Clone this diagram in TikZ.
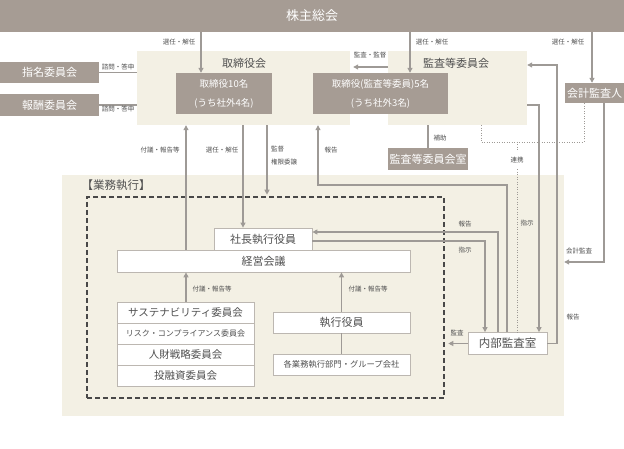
\documentclass[tikz,border=0pt]{standalone}
\usepackage{fontspec}
\setmainfont{Noto Sans CJK JP}
\usetikzlibrary{arrows.meta}
\definecolor{taupe}{RGB}{166,156,148}
\definecolor{paper}{RGB}{243,240,228}
\definecolor{wire}{RGB}{158,154,150}
\definecolor{ink}{RGB}{80,80,80}
\definecolor{edge}{RGB}{188,183,177}
\definecolor{dashgray}{RGB}{72,72,72}
\begin{document}
\begin{tikzpicture}[x=1pt,y=-1pt,
        region/.style={fill=paper,inner sep=0},
        graybox/.style={fill=taupe,text=white,inner sep=0,font=\fontsize{11}{13}\selectfont},
        whitebox/.style={draw=edge,fill=white,line width=.8pt,text=ink,inner sep=0,minimum width=137,minimum height=21,font=\fontsize{11}{13}\selectfont},
        heading/.style={text=ink,inner sep=0,font=\fontsize{11}{13}\selectfont},
        lbl/.style={text=ink,inner sep=0,font=\fontsize{6.5}{13}\selectfont},
        conn/.style={draw=wire,line width=1.1pt},
        arr/.style={conn,-{Triangle[length=5pt,width=5pt]}},
        dotline/.style={draw=wire,line width=.9pt,dash pattern=on 1pt off 1.5pt}]
        \useasboundingbox (0,0) rectangle (624,449);
        % regions
        \node[region,minimum width=213,minimum height=74] (torireg) at (243.5,88) {};
        \node[region,minimum width=139,minimum height=74] (kansareg) at (457.5,88) {};
        \node[region,minimum width=502,minimum height=241] (gyomu) at (313,295.5) {};
        \node[heading] (toritl) at (244,63) {取締役会};
        \node[heading] (kansatl) at (456,63) {監査等委員会};
        \node[heading,font=\fontsize{11.5}{13}\selectfont] (gyomutl) at (116,185) {【業務執行】};
        \node[draw=dashgray,line width=2.6pt,dash pattern=on 5pt off 3pt,minimum width=357,minimum height=201,inner sep=0] (exec) at (265.5,297.5) {};
        % governance boxes
        \node[graybox,minimum width=624,minimum height=32,font=\fontsize{13}{15}\selectfont] (soukai) at (312,16) {株主総会};
        \node[graybox,minimum width=96,minimum height=41,align=center,font=\fontsize{9.5}{19}\selectfont] (tori10) at (224,93.5) {取締役10名\\(うち社外4名)};
        \node[graybox,minimum width=135,minimum height=41,align=center,font=\fontsize{9.5}{19}\selectfont] (kansa5) at (380.5,93.5) {取締役(監査等委員)5名\\(うち社外3名)};
        \node[graybox,minimum width=99,minimum height=21] (shimei) at (49.5,72.5) {指名委員会};
        \node[graybox,minimum width=99,minimum height=22] (houshu) at (49.5,105) {報酬委員会};
        \node[graybox,minimum width=59,minimum height=20] (kaikei) at (594.5,93) {会計監査人};
        \node[graybox,minimum width=80,minimum height=22] (kshitsu) at (428,159) {監査等委員会室};
        % execution boxes
        \node[whitebox,minimum width=98,minimum height=22] (shacho) at (263,239) {社長執行役員};
        \node[whitebox,minimum width=293,minimum height=22] (keiei) at (263.5,261) {経営会議};
        \node[whitebox,font=\fontsize{10.5}{12}\selectfont] (sustain) at (185.5,312.5) {サステナビリティ委員会};
        \node[whitebox,font=\fontsize{8}{10}\selectfont] (risk) at (185.5,333.5) {リスク・コンプライアンス委員会};
        \node[whitebox,font=\fontsize{10.5}{12}\selectfont] (jinzai) at (185.5,354.5) {人財戦略委員会};
        \node[whitebox,font=\fontsize{10.5}{12}\selectfont] (toyushi) at (185.5,375.5) {投融資委員会};
        \node[whitebox] (shikko) at (341.5,322.5) {執行役員};
        \node[whitebox,font=\fontsize{8.3}{10}\selectfont] (bumon) at (341.5,364.5) {各業務執行部門・グループ会社};
        \node[whitebox,minimum width=79,minimum height=22,font=\fontsize{11.5}{13}\selectfont] (naibu) at (507.5,343.5) {内部監査室};
        % connectors
        \draw[arr] (201,0 |- soukai.south) -- (201,0 |- tori10.north);
        \draw[arr] (410,0 |- soukai.south) -- (410,0 |- kansa5.north);
        \draw[arr] (592,0 |- soukai.south) -- (592,0 |- kaikei.north);
        \draw[conn] (shimei.east) -- (shimei.east -| torireg.west);
        \draw[conn] (houshu.east) -- (houshu.east -| torireg.west);
        \draw[arr,shorten >=3pt] (kansareg.west |- 0,67) -- (torireg.east |- 0,67);
        \draw[arr] (186,0 |- keiei.north) -- (186,0 |- torireg.south);
        \draw[arr] (243,0 |- torireg.south) -- (243,0 |- shacho.north);
        \draw[arr,shorten >=1pt] (267,0 |- torireg.south) -- (267,0 |- exec.north);
        \draw[arr] (507,0 |- naibu.north) -- (507,185) -| (318,0 |- torireg.south);
        \draw[conn] (kshitsu.north) -- (kshitsu.north |- kansareg.south);
        \draw[dotline] (481,0 |- kansareg.south) |- (584,142) -- (584,0 |- kaikei.south);
        \draw[dotline] (517,142) -- (517,0 |- naibu.north);
        \draw[arr] (kansareg.east |- 0,105) -| (539,0 |- naibu.north);
        \draw[arr] (naibu.east) -| (557,65) -- (kansareg.east |- 0,65);
        \draw[arr] (604,0 |- kaikei.south) |- (gyomu.east |- 0,262);
        \draw[arr] (498,0 |- naibu.north) |- (shacho.east |- 0,232);
        \draw[arr] (shacho.east |- 0,241) -| (485,0 |- naibu.north);
        \draw[arr,shorten >=3pt] (naibu.west) -- (exec.east |- naibu.west);
        \draw[arr] (186,0 |- sustain.north) -- (186,0 |- keiei.south);
        \draw[arr] (shikko.north) -- (shikko.north |- keiei.south);
        \draw[conn] (shikko.south) -- (bumon.north);
        % labels
        \node[lbl] (sen1) at (179,42) {選任・解任};
        \node[lbl] (sen2) at (432,42) {選任・解任};
        \node[lbl] (sen3) at (568,42) {選任・解任};
        \node[lbl] (shi1) at (118,67) {諮問・答申};
        \node[lbl] (shi2) at (118,109) {諮問・答申};
        \node[lbl] (kan1) at (370,55) {監査・監督};
        \node[lbl] (fugi1) at (160,150) {付議・報告等};
        \node[lbl] (sen4) at (222,150) {選任・解任};
        \node[lbl,anchor=west,align=left] (kantoku) at (271,156) {監督\\権限委譲};
        \node[lbl] (hou1) at (331,150) {報告};
        \node[lbl] (hojo) at (440,138) {補助};
        \node[lbl,fill=white,inner ysep=5pt] (renkei) at (517,160) {連携};
        \node[lbl] (shiji1) at (527,223) {指示};
        \node[lbl] (hou2) at (465,224) {報告};
        \node[lbl] (shiji2) at (465,250) {指示};
        \node[lbl] (kaikan) at (579,251) {会計監査};
        \node[lbl] (hou3) at (573,317) {報告};
        \node[lbl] (kan2) at (457,333) {監査};
        \node[lbl] (fugi2) at (212,289) {付議・報告等};
        \node[lbl] (fugi3) at (368,289) {付議・報告等};
    \end{tikzpicture}
\end{document}
